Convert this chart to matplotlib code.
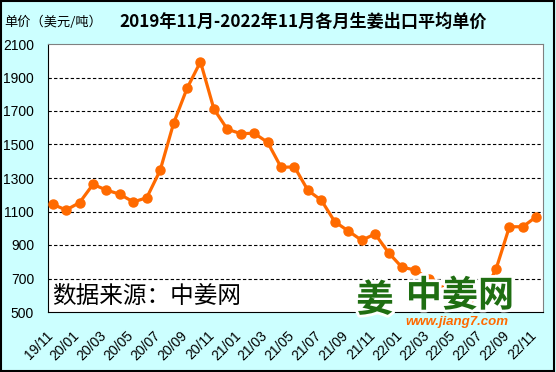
import matplotlib.pyplot as plt
import matplotlib.patheffects as pe
import matplotlib.transforms as mtransforms
from matplotlib.patches import Rectangle

plt.rcParams['font.family'] = ['Liberation Sans', 'Noto Sans CJK SC', 'DejaVu Sans']

# monthly export price, 2019/11 .. 2022/11 (USD per ton)
months = ['19/11', '19/12', '20/01', '20/02', '20/03', '20/04', '20/05', '20/06',
          '20/07', '20/08', '20/09', '20/10', '20/11', '20/12', '21/01', '21/02',
          '21/03', '21/04', '21/05', '21/06', '21/07', '21/08', '21/09', '21/10',
          '21/11', '21/12', '22/01', '22/02', '22/03', '22/04', '22/05', '22/06',
          '22/07', '22/08', '22/09', '22/10', '22/11']
prices = [1143, 1109, 1153, 1262, 1228, 1203, 1157, 1182,
          1346, 1627, 1835, 1994, 1712, 1591, 1565, 1567,
          1513, 1364, 1366, 1226, 1167, 1039, 984, 928,
          966, 854, 767, 751, 695, 631, 600, 583,
          600, 755, 1009, 1009, 1069]
yticks = [500, 700, 900, 1100, 1300, 1500, 1700, 1900, 2100]

bg = '#ccffff'
fig = plt.figure(figsize=(5.56, 3.72), dpi=100, facecolor=bg)
ax = fig.add_axes([48 / 556, 1 - 312 / 372, 495 / 556, 268 / 372])
ax.set_facecolor('white')

x = list(range(len(months)))
ax.plot(x, prices, color='#ff6a00', lw=2.3, marker='o', ms=6.5, zorder=3)

ax.set_xlim(-0.35, 36.5)
ax.set_ylim(500, 2100)
ax.set_yticks(yticks)
for v in yticks[1:-1]:
    ax.axhline(v, color='black', lw=0.8, ls=(0, (3, 2)), zorder=1)

ax.set_xticks(x[::2])
ax.set_xticklabels(months[::2], rotation=45, ha='right', va='top',
                   rotation_mode='anchor')
ax.tick_params(length=0, labelsize=10, colors='black')
ax.tick_params(axis='y', pad=10)
ax.tick_params(axis='x', pad=12)
shift = mtransforms.ScaledTranslation(-7 / 100, 0, fig.dpi_scale_trans)
for lab in ax.get_xticklabels():
    lab.set_transform(lab.get_transform() + shift)

for s in ['top', 'right']:
    ax.spines[s].set_color('#808080')
for s in ['left', 'bottom']:
    ax.spines[s].set_color('black')

# titles
fig.text(0.545, 0.941, '2019年11月-2022年11月各月生姜出口平均单价',
         ha='center', va='center', fontsize=12.3, fontweight='bold',
         family=['Noto Sans CJK SC', 'DejaVu Sans'])
fig.text(0.008, 0.941, '单价（美元/吨）', ha='left', va='center', fontsize=9.5,
         family=['Noto Sans CJK SC', 'DejaVu Sans'])

# source and watermark
fig.text(52 / 556, 1 - 296 / 372, '数据来源：中姜网', ha='left', va='center',
         fontsize=17, family=['Noto Sans CJK SC', 'DejaVu Sans'])
halo = [pe.withStroke(linewidth=4, foreground='white')]
fig.text(375 / 556, 1 - 300 / 372, '姜', ha='center', va='center', fontsize=27,
         fontweight='bold', color='#1f6e12', family=['Noto Sans CJK SC'],
         zorder=5, path_effects=halo)
fig.text(460 / 556, 1 - 296 / 372, '中姜网', ha='center', va='center', fontsize=26,
         fontweight='bold', color='#1f6e12', family=['Noto Sans CJK SC'],
         zorder=5, path_effects=halo)
fig.text(457 / 556, 1 - 322 / 372, 'www.jiang7.com', ha='center', va='center',
         fontsize=9.5, fontweight='bold', style='italic', color='#ff6a00', zorder=5)

fig.patches.append(Rectangle((0.002, 0.003), 0.995, 0.994, transform=fig.transFigure,
                             fill=False, edgecolor='black', lw=1.5))

fig.savefig('out.png', dpi=100, facecolor=bg)
